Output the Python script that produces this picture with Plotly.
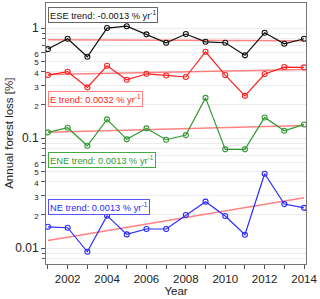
import plotly.graph_objects as go
import numpy as np

years = list(range(2001, 2015))

ese = [0.644, 0.80, 0.548, 1.0, 1.04, 0.877, 0.735, 0.882, 0.75, 0.735, 0.565, 0.906, 0.72, 0.80]
e = [0.374, 0.401, 0.289, 0.454, 0.339, 0.384, 0.371, 0.359, 0.609, 0.374, 0.242, 0.382, 0.442, 0.439]
ene = [0.1127, 0.124, 0.0851, 0.148, 0.0973, 0.1225, 0.0966, 0.1064, 0.232, 0.0789, 0.0789, 0.154, 0.1166, 0.133]
ne = [0.0156, 0.0153, 0.00925, 0.0197, 0.0133, 0.0149, 0.0149, 0.01995, 0.0264, 0.01954, 0.0132, 0.0474, 0.0251, 0.0232]

series_names = ["ESE", "E", "ENE", "NE"]
series_values = [ese, e, ene, ne]
trend_slopes = [-0.0013, 0.0032, 0.0013, 0.0013]   # % per yr (from labels)
trend_start = [0.785, 0.378, 0.113, 0.0117]        # trend value at 2001
colors = ["#111111", "#ff2020", "#339933", "#2a2aff"]
box_colors = ["#666666", "#ff8080", "#44aa44", "#5555ff"]
label_y = [0.985, 0.663, 0.429, 0.249]

minor_digits = [2, 3, 4, 5, 6]

fig = go.Figure()

for name, vals, slope, t0, c in zip(series_names, series_values, trend_slopes, trend_start, colors):
    tx = [years[0], years[-1]]
    ty = [t0, t0 + slope * (years[-1] - years[0])]
    fig.add_trace(go.Scatter(x=tx, y=ty, mode="lines",
                             line=dict(color="rgba(255,90,90,0.75)", width=1.5),
                             showlegend=False, hoverinfo="skip"))
    fig.add_trace(go.Scatter(x=years, y=vals, mode="lines+markers",
                             line=dict(color=c, width=1.2),
                             marker=dict(symbol="circle-open", size=5, color=c, line=dict(width=1.1)),
                             showlegend=False))

for name, slope, c, bc, ly in zip(series_names, trend_slopes, colors, box_colors, label_y):
    fig.add_annotation(xref="paper", yref="paper", x=0.006, y=ly, xanchor="left", yanchor="top",
                       text=f"{name} trend: {slope:.4f} % yr<sup>-1</sup>", showarrow=False,
                       font=dict(size=9.3, color=c, family="Liberation Sans, Arial"),
                       bordercolor=bc, borderwidth=1, borderpad=1, bgcolor="white", align="left")

tickvals, ticktext = [], []
for dec in [0.01, 0.1]:
    tickvals.append(dec)
    ticktext.append("0.01" if dec == 0.01 else "0.1")
    for d in minor_digits:
        tickvals.append(d * dec)
        ticktext.append(f'<span style="font-size:8px">{d}</span>')
tickvals.append(1)
ticktext.append("1")

minor_vals = [d * dec for dec in [0.001, 0.01, 0.1, 1] for d in range(1, 10) if 0.007 < d * dec < 1.7]

fig.add_annotation(xref="paper", yref="paper", x=-0.145, y=0.5, xanchor="center", yanchor="middle",
                   text="Annual forest loss [%]", textangle=-90, showarrow=False,
                   font=dict(size=11.5, color="#222"))

fig.update_layout(
    width=320, height=299,
    margin=dict(l=46, r=14, t=3, b=35),
    plot_bgcolor="white", paper_bgcolor="white",
    font=dict(family="Liberation Sans, Arial", size=11, color="#222"),
    xaxis=dict(range=[2000.9, 2014.1], tickvals=list(range(2002, 2015, 2)), automargin=False,
               ticks="outside", ticklen=4, tickcolor="#555",
               minor=dict(tickvals=list(range(2001, 2015, 2)), ticks="outside", ticklen=4, tickcolor="#555"),
               showgrid=False, showline=True, linecolor="#777", mirror=True,
               tickfont=dict(size=11.5), title=dict(text="Year", font=dict(size=11.5), standoff=2)),
    yaxis=dict(type="log", range=[np.log10(0.00716), np.log10(1.69)], automargin=False,
               tickvals=tickvals, ticktext=ticktext, ticks="outside", ticklen=4, tickcolor="#555",
               tickfont=dict(size=12),
               minor=dict(tickvals=minor_vals, ticks="outside", ticklen=3, tickcolor="#555",
                          showgrid=True, gridcolor="#ececec", gridwidth=1),
               showgrid=True, gridcolor="#ececec", showline=True, linecolor="#777", mirror=True,
               zeroline=False),
)

fig.write_html("out.html", config={"displayModeBar": False},
               post_script="document.body.style.margin='0';document.body.style.overflow='hidden';")
